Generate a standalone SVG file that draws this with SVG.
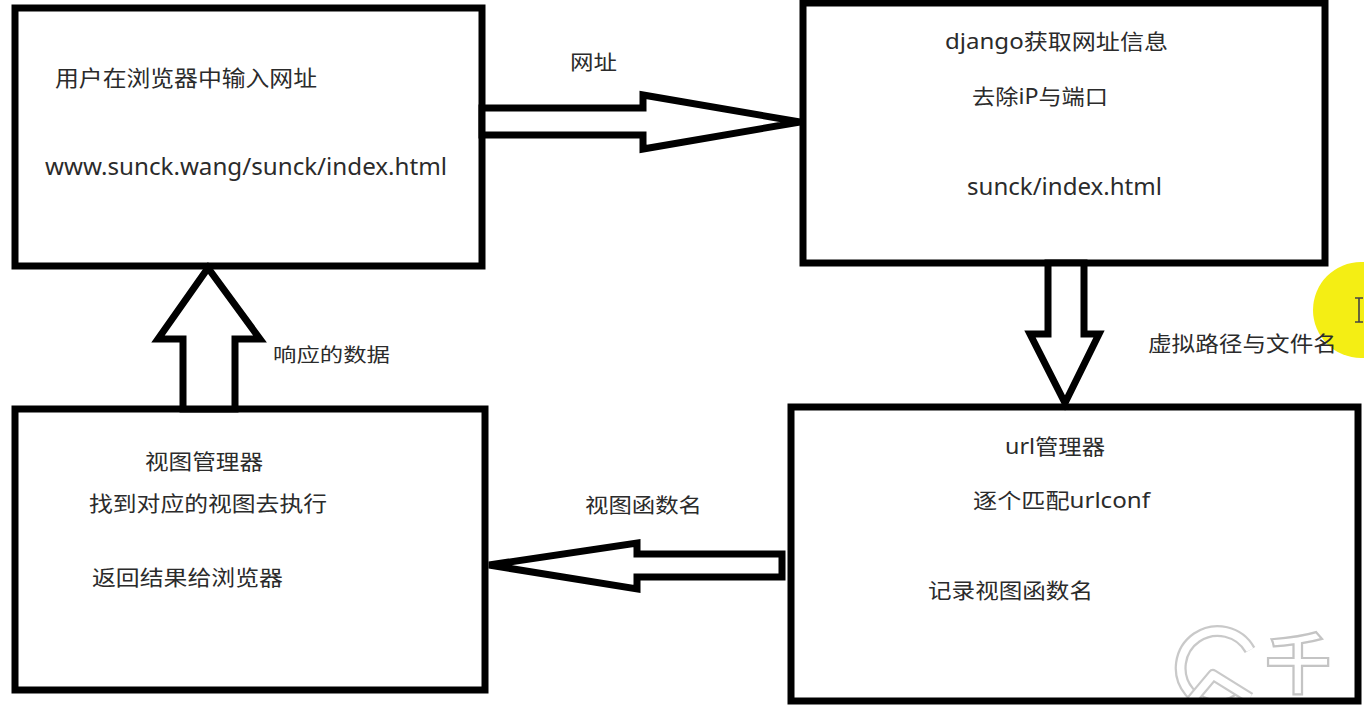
<svg xmlns="http://www.w3.org/2000/svg" width="1364" height="706" viewBox="0 0 1364 706">
<style>
.box{fill:none;stroke:#000;stroke-width:7;stroke-linejoin:miter}
.arr{fill:#fff;stroke:#000;stroke-width:7;stroke-linejoin:miter;stroke-miterlimit:4}
.t{font-family:"Noto Sans","Noto Sans CJK SC",sans-serif;fill:#2b2b2b}
.wm{font-family:"Noto Sans CJK SC",sans-serif;font-size:66px;font-weight:bold;fill:#fff;stroke:#c4c4c4;stroke-width:2.2}
</style>
<defs>
<clipPath id="wmclip"><rect x="1160" y="600" width="195" height="100"/></clipPath>
</defs>
<rect x="0" y="0" width="1364" height="706" fill="#fff"/>

<g id="overlay">
<circle cx="1361" cy="310" r="48" fill="#f4ee14"/>
<path d="M1355 298 H1363 M1359 298 V322 M1355 322 H1363" stroke="#444" stroke-width="1.6" fill="none"/>
<g clip-path="url(#wmclip)" opacity="0.9">
<path d="M1244 694 A37 37 0 1 1 1250 650" fill="none" stroke="#c4c4c4" stroke-width="12"/>
<path d="M1244 694 A37 37 0 1 1 1250 650" fill="none" stroke="#fff" stroke-width="7.5"/>
<path d="M1192 700 L1213 675 L1250 698" fill="none" stroke="#c4c4c4" stroke-width="12" stroke-linejoin="round"/>
<path d="M1192 700 L1213 675 L1250 698" fill="none" stroke="#fff" stroke-width="7.5" stroke-linejoin="round"/>
</g>
<text class="wm" x="1265" y="688">千</text>
</g>

<g id="node-browser">
<rect class="box" x="15" y="8" width="467" height="258"/>
<text class="t" x="55" y="86" font-size="22" textLength="262" lengthAdjust="spacingAndGlyphs">用户在浏览器中输入网址</text>
<text class="t" x="45" y="175" font-size="24" textLength="402" lengthAdjust="spacingAndGlyphs">www.sunck.wang/sunck/index.html</text>
</g>

<g id="node-django">
<rect class="box" x="803" y="3" width="522" height="260"/>
<text class="t" x="945" y="49" font-size="21" textLength="223" lengthAdjust="spacingAndGlyphs">django获取网址信息</text>
<text class="t" x="972" y="104" font-size="21" textLength="136" lengthAdjust="spacingAndGlyphs">去除iP与端口</text>
<text class="t" x="967" y="195" font-size="23" textLength="195" lengthAdjust="spacingAndGlyphs">sunck/index.html</text>
</g>

<g id="node-view">
<rect class="box" x="15" y="409" width="470" height="281"/>
<text class="t" x="145" y="469" font-size="21" textLength="118" lengthAdjust="spacingAndGlyphs">视图管理器</text>
<text class="t" x="89" y="511" font-size="21" textLength="238" lengthAdjust="spacingAndGlyphs">找到对应的视图去执行</text>
<text class="t" x="92" y="585" font-size="21" textLength="191" lengthAdjust="spacingAndGlyphs">返回结果给浏览器</text>
</g>

<g id="node-url">
<rect class="box" x="791" y="407" width="567" height="294"/>
<text class="t" x="1005" y="454" font-size="21" textLength="100" lengthAdjust="spacingAndGlyphs">url管理器</text>
<text class="t" x="973" y="508" font-size="21" textLength="177" lengthAdjust="spacingAndGlyphs">逐个匹配urlconf</text>
<text class="t" x="928" y="598" font-size="21" textLength="165" lengthAdjust="spacingAndGlyphs">记录视图函数名</text>
</g>

<g id="connectors">
<path class="arr" d="M482 108 H643 V95 L800 122 L643 149 V135 H482 Z"/>
<path class="arr" d="M1048 263 V334 H1030 L1065 403 L1099 334 H1084 V263 Z"/>
<path class="arr" d="M782 554 H637 V543 L489 565 L637 589 V577 H782 Z"/>
<path class="arr" d="M183 409 V339 H158 L208 268 L260 339 H235 V409 Z"/>
<text class="t" x="570" y="70" font-size="20" textLength="47" lengthAdjust="spacingAndGlyphs">网址</text>
<text class="t" x="1148" y="351" font-size="21" textLength="189" lengthAdjust="spacingAndGlyphs">虚拟路径与文件名</text>
<text class="t" x="273" y="362" font-size="19" textLength="117" lengthAdjust="spacingAndGlyphs">响应的数据</text>
<text class="t" x="585" y="513" font-size="20" textLength="117" lengthAdjust="spacingAndGlyphs">视图函数名</text>
</g>
</svg>
